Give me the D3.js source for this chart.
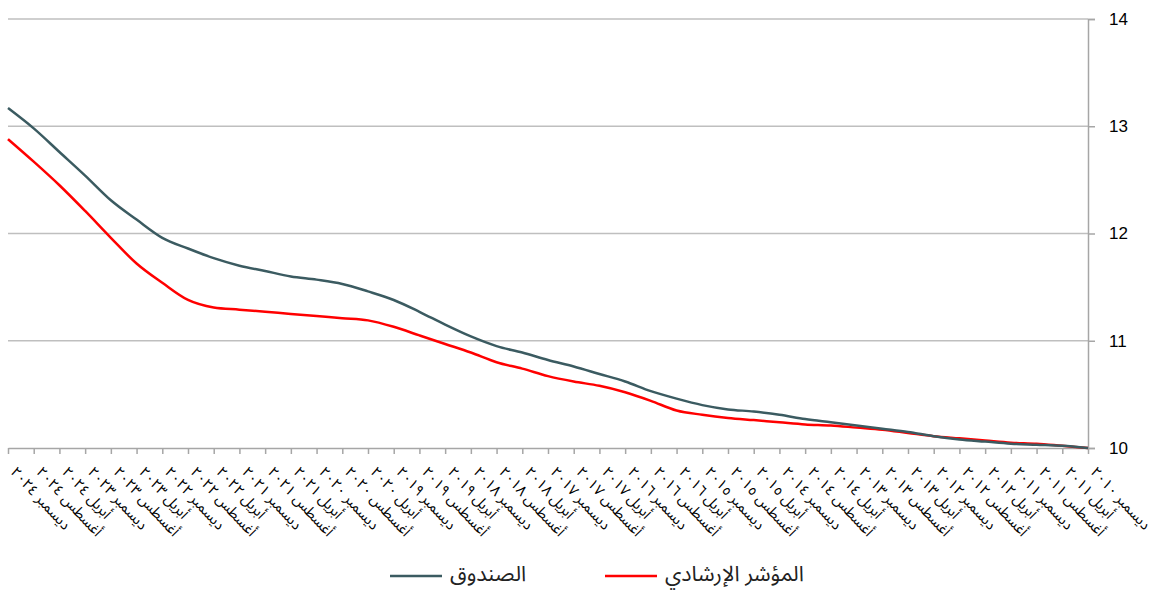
<!DOCTYPE html>
<html>
<head>
<meta charset="utf-8">
<script src="https://cdn.jsdelivr.net/npm/d3@7"></script>
<style>
body { margin:0; background:#fff; }
</style>
</head>
<body>
<div id="graphe"></div>
<script>
// categories, every 4 months, oldest first (the axis runs right to left)
let categories = [
  "ديسمبر ٢٠١٠",
  "أبريل ٢٠١١","أغسطس ٢٠١١","ديسمبر ٢٠١١",
  "أبريل ٢٠١٢","أغسطس ٢٠١٢","ديسمبر ٢٠١٢",
  "أبريل ٢٠١٣","أغسطس ٢٠١٣","ديسمبر ٢٠١٣",
  "أبريل ٢٠١٤","أغسطس ٢٠١٤","ديسمبر ٢٠١٤",
  "أبريل ٢٠١٥","أغسطس ٢٠١٥","ديسمبر ٢٠١٥",
  "أبريل ٢٠١٦","أغسطس ٢٠١٦","ديسمبر ٢٠١٦",
  "أبريل ٢٠١٧","أغسطس ٢٠١٧","ديسمبر ٢٠١٧",
  "أبريل ٢٠١٨","أغسطس ٢٠١٨","ديسمبر ٢٠١٨",
  "أبريل ٢٠١٩","أغسطس ٢٠١٩","ديسمبر ٢٠١٩",
  "أبريل ٢٠٢٠","أغسطس ٢٠٢٠","ديسمبر ٢٠٢٠",
  "أبريل ٢٠٢١","أغسطس ٢٠٢١","ديسمبر ٢٠٢١",
  "أبريل ٢٠٢٢","أغسطس ٢٠٢٢","ديسمبر ٢٠٢٢",
  "أبريل ٢٠٢٣","أغسطس ٢٠٢٣","ديسمبر ٢٠٢٣",
  "أبريل ٢٠٢٤","أغسطس ٢٠٢٤","ديسمبر ٢٠٢٤"
];

let fonds = [10.00,10.02,10.03,10.04,10.06,10.08,10.11,10.15,10.18,10.21,
  10.24,10.27,10.31,10.34,10.36,10.40,10.46,10.53,10.62,10.69,
  10.76,10.82,10.89,10.95,11.04,11.15,11.27,11.38,11.46,11.53,
  11.57,11.60,11.65,11.70,11.77,11.86,11.96,12.13,12.31,12.54,
  12.76,12.98,13.17];

let indice = [10.00,10.02,10.04,10.05,10.07,10.09,10.11,10.14,10.17,10.19,
  10.21,10.22,10.24,10.26,10.28,10.31,10.35,10.44,10.52,10.58,
  10.62,10.67,10.74,10.80,10.89,10.97,11.05,11.13,11.19,11.21,
  11.23,11.25,11.27,11.29,11.31,11.38,11.54,11.72,11.96,12.21,
  12.45,12.67,12.88];

let graduations = [10, 11, 12, 13, 14];

let nomFonds = "الصندوق";
let nomIndice = "المؤشر الإرشادي";

let largeur = 1149, hauteur = 591;
let gauche = 8, droite = 1088, haut = 19, bas = 448;
let police = "'Noto Sans Arabic','DejaVu Sans',sans-serif";

let svg = d3.select("#graphe").append("svg")
  .attr("width", largeur).attr("height", hauteur);

let x = d3.scalePoint().domain(categories).range([droite, gauche]);
let y = d3.scaleLinear().domain([10, 14]).range([bas, haut]);

// grille horizontale
svg.append("g").selectAll("line").data(graduations.slice(1)).join("line")
  .attr("x1", gauche).attr("x2", droite)
  .attr("y1", d => y(d)).attr("y2", d => y(d))
  .attr("stroke", "#bfbfbf").attr("stroke-width", 1.5);

// axe vertical a droite
let axeY = svg.append("g").attr("transform", "translate(" + droite + ",0)")
  .call(d3.axisRight(y).tickValues(graduations).tickFormat(d3.format("d"))
    .tickSize(7).tickPadding(14));
axeY.select(".domain").attr("stroke", "#a6a6a6").attr("stroke-width", 1.5);
axeY.selectAll(".tick line").attr("stroke", "#a6a6a6").attr("stroke-width", 1.5);
axeY.selectAll("text").attr("font-family", "'Liberation Sans',Arial,sans-serif")
  .attr("font-size", 17).attr("fill", "#000");

// axe horizontal
let axeX = svg.append("g").attr("transform", "translate(0," + bas + ")")
  .call(d3.axisBottom(x).tickSize(6).tickSizeOuter(0));
axeX.select(".domain").attr("stroke", "#a6a6a6").attr("stroke-width", 1.5);
axeX.selectAll(".tick line").attr("stroke", "#a6a6a6").attr("stroke-width", 1.5);
axeX.selectAll("text")
  .attr("font-family", police).attr("font-size", 14.5).attr("fill", "#000")
  .attr("y", 0).attr("dy", "0.35em")
  .attr("text-anchor", "start")
  .attr("transform", "translate(5,21) rotate(47)");

// courbes (de gauche a droite)
let ligne = d3.line()
  .x(d => x(d[0])).y(d => y(d[1]))
  .curve(d3.curveMonotoneX);

let series = [
  { nom: nomIndice, valeurs: indice, couleur: "#ff0000" },
  { nom: nomFonds, valeurs: fonds, couleur: "#3b5b61" }
];

for (let s of series) {
  let points = categories.map((c, i) => [c, s.valeurs[i]]).reverse();
  svg.append("path")
    .attr("d", ligne(points))
    .attr("fill", "none")
    .attr("stroke", s.couleur)
    .attr("stroke-width", 2.5)
    .attr("stroke-linejoin", "round");
}

// legende
let legende = [
  { nom: nomFonds, couleur: "#3b5b61", x: 390 },
  { nom: nomIndice, couleur: "#ff0000", x: 605 }
];
for (let l of legende) {
  svg.append("line")
    .attr("x1", l.x).attr("x2", l.x + 52)
    .attr("y1", 576).attr("y2", 576)
    .attr("stroke", l.couleur).attr("stroke-width", 2.5);
  svg.append("text")
    .attr("x", l.x + 60).attr("y", 573).attr("dy", "0.35em")
    .attr("font-family", police).attr("font-size", 21.5).attr("fill", "#222")
    .text(l.nom);
}
</script>
</body>
</html>
